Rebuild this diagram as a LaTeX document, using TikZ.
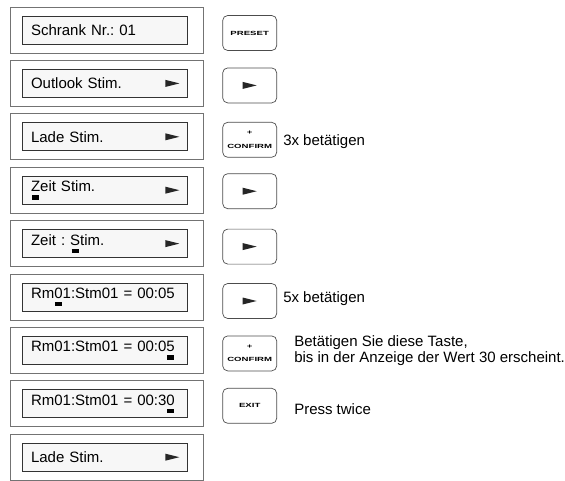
\documentclass[tikz,border=0pt]{standalone}
\usepackage{fontspec}
\setmainfont{Liberation Sans}
\usetikzlibrary{positioning}
\frenchspacing

% cursor block under one character of the display
\newcommand{\csr}[1]{\ooalign{#1\cr\hidewidth\rule[-8pt]{7pt}{4.5pt}\hidewidth\cr}}
% tiny wide lettering on the keys
\newcommand{\keytxt}[1]{\scalebox{1.6}[1]{\fontsize{6}{7}\selectfont\bfseries #1}}

\begin{document}
\begin{tikzpicture}[
      x=1pt, y=-1pt,
      font=\fontsize{15}{15.5}\selectfont,
      frame/.style={draw=black!55, line width=0.7pt, minimum width=193pt,
                    minimum height=46pt, inner sep=0pt},
      lcd/.style={draw=black!80, line width=0.8pt, fill=black!3,
                  minimum width=165pt, minimum height=28pt, text width=147pt,
                  inner xsep=9pt, inner ysep=0pt, align=left},
      key/.style={draw=black!70, line width=0.7pt, rounded corners=5pt,
                  minimum width=54pt, minimum height=35pt, inner sep=0pt,
                  align=center},
      note/.style={inner sep=0pt, align=left},
      tip/.style={fill=black!85},
    ]
    \useasboundingbox (0,0) rectangle (565,480);

    % displays
    \foreach \i/\txt in {1/{Schrank Nr.: 01}, 2/{Outlook Stim.}, 3/{Lade Stim.},
        4/{\csr{Z}eit Stim.}, 5/{Zeit : \csr{S}tim.}, 6/{Rm\csr{0}1:Stm01 = 00:05},
        7/{Rm01:Stm01 = 00:0\csr{5}}, 8/{Rm01:Stm01 = 00:3\csr{0}}, 9/{Lade Stim.}} {
      \node[frame] (f\i) at (106.5, {30+53.4*(\i-1)}) {};
      \node[lcd] (l\i) at ([xshift=-2pt]f\i.center) {\txt};
    }
    \foreach \i in {2,3,4,5,9}
      \fill[tip] ([xshift=-15pt]l\i.east) ++(-7,-3.5) -- ++(14,3.5) -- ++(-14,3.5) -- cycle;

    % keys
    \node[key, right=19pt of f1, yshift=-3pt] (k1) {\keytxt{PRESET}};
    \node[key, right=19pt of f2, yshift=-2pt] (k2) {};
    \node[key, right=19pt of f3, yshift=-3pt] (k3) {\keytxt{+}\\[-2pt]\keytxt{CONFIRM}};
    \node[key, right=19pt of f4, yshift=-1pt] (k4) {};
    \node[key, right=19pt of f5, yshift=-3pt] (k5) {};
    \node[key, right=19pt of f6, yshift=-4pt] (k6) {};
    \node[key, right=19pt of f7, yshift=-3pt] (k7) {\keytxt{+}\\[-2pt]\keytxt{CONFIRM}};
    \node[key, right=19pt of f8, yshift=-2pt] (k8) {\keytxt{EXIT}};
    \foreach \i in {2,4,5,6}
      \fill[tip] (k\i.center) ++(-7,-3.5) -- ++(14,3.5) -- ++(-14,3.5) -- cycle;

    % notes
    \node[note, right=6pt of k3, yshift=-2pt] (n3) {3x betätigen};
    \node[note, right=6pt of k6, yshift=2pt] (n6) {5x betätigen};
    \node[note, right=17pt of k7, yshift=3pt] (n7) {Betätigen Sie diese Taste,\\bis in der Anzeige der Wert 30 erscheint.};
    \node[note, right=17pt of k8, yshift=-3pt] (n8) {Press twice};
  \end{tikzpicture}
\end{document}
